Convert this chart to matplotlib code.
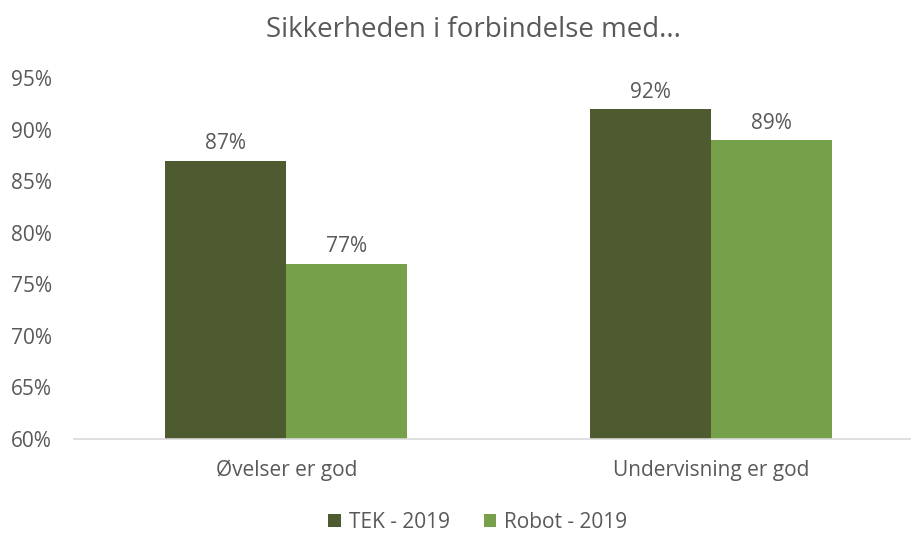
import numpy as np
import matplotlib
matplotlib.use("Agg")
import matplotlib.pyplot as plt

categories = ["Øvelser er god", "Undervisning er god"]
tek_2019 = [0.87, 0.92]
robot_2019 = [0.77, 0.89]
series_names = ["TEK - 2019", "Robot - 2019"]
yticks = [0.60, 0.65, 0.70, 0.75, 0.80, 0.85, 0.90, 0.95]

plt.rcParams["font.family"] = ["Open Sans", "DejaVu Sans"]
txt = "#595959"
c_dark = "#4E5B31"
c_light = "#77A04A"
fs = 15

W, H = 911, 533
fig = plt.figure(figsize=(W / 100, H / 100), dpi=100)
ax = fig.add_axes([74 / W, 94 / H, (911 - 74) / W, 361 / H])

x = np.arange(len(categories))
bw = 121 / 424
b1 = ax.bar(x - bw / 2, tek_2019, bw, color=c_dark, label=series_names[0])
b2 = ax.bar(x + bw / 2, robot_2019, bw, color=c_light, label=series_names[1])
for bars in (b1, b2):
    for rect in bars:
        v = rect.get_height()
        ax.text(rect.get_x() + rect.get_width() / 2, v + 0.006, f"{v:.0%}",
                ha="center", va="bottom", fontsize=fs, color=txt)

ax.set_ylim(0.60, 0.95)
ax.set_xlim(-0.5, 1 + (911 - 711) / 424)
ax.set_yticks(yticks)
ax.set_yticklabels([f"{t:.0%}" for t in yticks])
ax.set_xticks(x)
ax.set_xticklabels(categories)
ax.tick_params(length=0, labelsize=fs, colors=txt)
ax.tick_params(axis="y", pad=16)
ax.tick_params(axis="x", pad=15)
for s in ["top", "right", "left"]:
    ax.spines[s].set_visible(False)
ax.spines["bottom"].set_color("#D9D9D9")
ax.spines["bottom"].set_linewidth(1.2)

fig.text(473 / W, 1 - 30 / H, "Sikkerheden i forbindelse med...", ha="center", va="center",
         fontsize=20, color=txt)
fig.legend(handles=[b1, b2], loc="center", bbox_to_anchor=(478 / W, 1 - 522 / H), ncol=2,
           frameon=False, fontsize=fs, labelcolor=txt, handlelength=0.6, handleheight=0.6,
           handletextpad=0.4, columnspacing=1.6)

fig.savefig("out.png", dpi=100)
